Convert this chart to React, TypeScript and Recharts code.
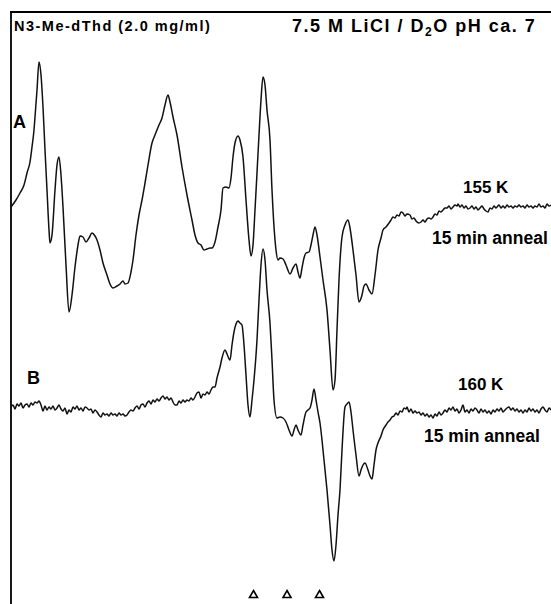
import React from "react";
import { ComposedChart, Line, Scatter, XAxis, YAxis } from "recharts";

// ESR spectra: [field (arb. units), signal (arb. units, relative to own baseline)]
const spectrumA: [number, number][] = [
  [11,0],[16,7],[20,14],[24,22],[27,34],[30,45],[32,60],[34,77],[35,90],[37,117],[39,145],[41,132],[43,100],[45,57],[47,17],[49,-23],[50,-36],[52,-28],[55,17],[57,42],[59,50],[61,32],[63,0],[66,-58],[69,-105],[72,-88],[75,-60],[78,-38],[80,-29],[83,-30],[86,-35],[89,-31],[92,-26],[95,-29],[97,-33],[100,-43],[103,-56],[107,-68],[110,-77],[113,-81],[117,-79],[120,-77],[123,-74],[125,-77],[128,-76],[131,-65],[133,-53],[136,-28],[139,-8],[142,7],[145,24],[148,42],[152,64],[155,72],[159,82],[162,89],[165,102],[168,112],[170,105],[173,90],[177,72],[182,40],[187,12],[192,-13],[195,-28],[198,-36],[201,-38],[204,-43],[207,-42],[210,-41],[212,-41],[215,-35],[218,-20],[221,-3],[223,19],[226,20],[229,19],[231,29],[233,50],[235,64],[238,71],[240,67],[243,50],[246,7],[249,-33],[251,-49],[253,-38],[255,-3],[257,34],[259,72],[261,107],[263,130],[265,122],[267,97],[270,67],[272,17],[275,-33],[276,-43],[278,-53],[280,-51],[283,-52],[286,-58],[290,-67],[293,-61],[296,-57],[298,-65],[300,-71],[302,-61],[304,-51],[306,-46],[309,-45],[311,-38],[313,-28],[315,-20],[317,-28],[320,-50],[323,-73],[327,-103],[330,-143],[333,-183],[335,-173],[337,-123],[339,-73],[342,-30],[345,-18],[348,-13],[350,-21],[353,-43],[356,-68],[359,-95],[362,-88],[364,-79],[366,-77],[369,-83],[372,-87],[375,-68],[378,-43],[381,-31],[383,-23],[386,-20],[389,-16],[391,-13],[393,-10],[395,-11],[397,-8],[399,-9],[401,-5],[403,-6],[405,-9],[407,-7],[410,-8],[412,-12],[414,-11],[416,-14],[419,-16],[421,-15],[423,-13],[425,-15],[427,-12],[429,-11],[431,-12],[433,-10],[435,-7],[437,-8],[439,-4],[441,-5],[443,-3],[445,-1],[447,-1],[449,1],[451,-2],[453,0],[455,2],[457,1],[458,3],[460,0],[462,2],[464,-1],[466,1],[468,-2],[470,-1],[472,1],[474,-2],[476,0],[478,-3],[480,-1],[482,1],[484,-2],[486,-4],[488,-5],[490,-1],[492,-2],[494,1],[496,-1],[497,0],[499,2],[501,-1],[503,1],[505,-1],[507,2],[509,0],[511,1],[513,-1],[515,1],[517,0],[519,2],[521,0],[523,1],[525,-1],[527,2],[529,0],[531,1],[533,-1],[535,1],[537,0],[539,3],[541,0],[543,1],[545,-1],[547,3],[549,1],[551,2],
];

const spectrumB: [number, number][] = [
  [11,3],[13,5],[15,1],[17,6],[19,4],[21,7],[23,2],[25,5],[27,6],[29,3],[31,7],[33,5],[35,8],[37,7],[39,9],[41,5],[43,-1],[45,4],[47,0],[49,3],[51,1],[53,4],[55,0],[57,2],[59,5],[61,1],[63,-1],[65,2],[67,-4],[69,0],[71,-2],[73,3],[75,1],[77,4],[79,0],[81,2],[83,-1],[85,3],[87,2],[89,0],[91,1],[93,-3],[95,0],[97,-2],[99,-5],[101,-7],[103,-3],[105,-5],[107,-4],[109,-6],[111,-3],[113,-5],[115,-4],[117,-6],[119,-3],[121,-5],[123,-4],[125,-6],[127,-5],[129,-2],[131,0],[133,-1],[135,2],[137,4],[139,1],[141,5],[143,6],[145,3],[147,7],[149,9],[151,6],[153,10],[155,8],[157,11],[159,9],[161,12],[163,14],[165,11],[167,13],[169,10],[171,12],[173,8],[175,5],[177,5],[179,9],[181,7],[183,10],[185,8],[187,10],[189,9],[191,12],[193,10],[195,13],[197,17],[199,18],[201,12],[203,16],[205,15],[207,18],[209,16],[211,20],[213,23],[215,23],[217,32],[220,43],[222,52],[225,60],[227,56],[230,50],[232,65],[234,78],[236,86],[238,89],[240,87],[242,85],[244,65],[246,35],[248,5],[250,-7],[252,10],[254,30],[257,70],[259,110],[261,145],[263,161],[265,150],[267,120],[270,87],[272,50],[274,10],[277,-8],[280,-7],[283,-8],[286,-12],[289,-20],[292,-26],[294,-20],[296,-15],[298,-20],[301,-25],[303,-15],[306,-2],[308,0],[310,2],[312,10],[314,21],[316,10],[318,-2],[320,-13],[322,-30],[324,-50],[327,-80],[330,-115],[332,-140],[334,-151],[336,-135],[338,-105],[340,-80],[342,-40],[345,3],[347,6],[349,8],[351,-2],[353,-20],[356,-45],[359,-66],[361,-60],[363,-55],[365,-53],[368,-60],[370,-66],[372,-69],[374,-55],[376,-40],[378,-33],[381,-26],[383,-20],[386,-15],[388,-12],[390,-10],[392,-7],[394,-6],[396,-3],[398,-5],[400,-1],[402,-2],[404,2],[406,1],[407,3],[409,-2],[411,1],[413,-3],[415,-1],[417,-3],[419,-2],[421,-5],[423,-3],[425,-6],[427,-4],[429,-7],[431,-5],[433,-8],[435,-4],[437,-6],[439,-2],[441,-5],[443,-3],[445,0],[447,-2],[449,2],[451,0],[453,3],[455,-1],[457,1],[459,-3],[461,0],[463,5],[465,-2],[467,0],[469,-3],[471,1],[473,-1],[475,2],[477,0],[479,-3],[481,1],[483,-2],[485,0],[487,-3],[489,-1],[491,-4],[493,0],[495,-2],[497,1],[499,-1],[501,2],[503,-2],[505,0],[507,2],[509,3],[511,0],[513,2],[515,-1],[517,1],[519,-2],[521,0],[523,-3],[525,0],[527,-2],[529,2],[531,-1],[533,1],[535,-2],[537,0],[539,-3],[541,1],[543,3],[545,0],[547,-2],[549,2],[551,0],
];

// Marker positions (field) of the triangles
const markerFields = [253.5, 287, 319.5];

// Stacking offsets for the two traces and marker row level
const offsetA = 397;
const offsetB = 194;
const markerLevel = 10;

const tableA = spectrumA.map(([field, s]) => ({ field, y: s + offsetA }));
const tableB = spectrumB.map(([field, s]) => ({ field, y: s + offsetB }));
const markers = markerFields.map((field) => ({ field, y: markerLevel }));

const W = 551;
const H = 604;
const FONT = "'Liberation Sans', Arial, Helvetica, sans-serif";

const Triangle = (props: any) => {
  const { cx, cy } = props;
  if (cx == null || cy == null) return null;
  return (
    <path
      d={`M ${cx} ${cy - 3.5} L ${cx + 4} ${cy + 3.5} L ${cx - 4} ${cy + 3.5} Z`}
      fill="none"
      stroke="#000"
      strokeWidth={1.6}
      strokeLinejoin="miter"
    />
  );
};

export default function App() {
  return (
    <div style={{ position: "absolute", left: 0, top: 0, width: W, height: H, background: "#fff", overflow: "hidden" }}>
      <div style={{ position: "absolute", left: 0, top: 0 }}>
        <ComposedChart width={W} height={H} margin={{ top: 0, right: 0, bottom: 0, left: 0 }} accessibilityLayer={false}>
          <XAxis type="number" dataKey="field" domain={[0, W]} hide allowDataOverflow />
          <YAxis type="number" dataKey="y" domain={[0, H]} hide allowDataOverflow />
          <path d={`M 11 ${H} V 12 H ${W}`} fill="none" stroke="#000" strokeWidth={1.8} />
          <Line data={tableA} dataKey="y" type="monotone" stroke="#111" strokeWidth={1.5} dot={false} activeDot={false} isAnimationActive={false} />
          <Line data={tableB} dataKey="y" type="monotone" stroke="#111" strokeWidth={1.5} dot={false} activeDot={false} isAnimationActive={false} />
          <Scatter data={markers} dataKey="y" shape={Triangle} isAnimationActive={false} />
          <text x={14} y={31} fontFamily={FONT} fontWeight="bold" fontSize={14.5} letterSpacing={1.5} fill="#000">N3-Me-dThd (2.0 mg/ml)</text>
          <text x={292} y={32} fontFamily={FONT} fontWeight="bold" fontSize={18} letterSpacing={1.5} fill="#000">
            7.5 M LiCl / D<tspan fontSize={12} dy={4}>2</tspan><tspan dy={-4}>O pH ca. 7</tspan>
          </text>
          <text x={13} y={128} fontFamily={FONT} fontWeight="bold" fontSize={18} fill="#000">A</text>
          <text x={27} y={384} fontFamily={FONT} fontWeight="bold" fontSize={18} fill="#000">B</text>
          <text x={463} y={193} fontFamily={FONT} fontWeight="bold" fontSize={17} fill="#000">155 K</text>
          <text x={432} y={244} fontFamily={FONT} fontWeight="bold" fontSize={17.5} fill="#000">15 min anneal</text>
          <text x={458} y={390} fontFamily={FONT} fontWeight="bold" fontSize={17} fill="#000">160 K</text>
          <text x={424} y={442} fontFamily={FONT} fontWeight="bold" fontSize={17.5} fill="#000">15 min anneal</text>
        </ComposedChart>
      </div>
      <div style={{ position: "absolute", left: 10, top: 11, width: W - 10, height: 2, background: "#000", zIndex: 5 }} />
    </div>
  );
}
